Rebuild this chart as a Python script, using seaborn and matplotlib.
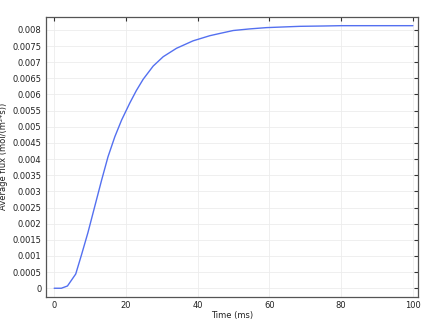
import matplotlib
matplotlib.use("Agg")
import matplotlib.pyplot as plt
import seaborn as sns
import pandas as pd

time_ms = [0, 2, 3.7, 6, 7.6, 9.4, 11.3, 13.2, 15.0, 16.9, 18.8, 21.1, 22.9, 24.8,
           27.6, 30.4, 34.1, 38.7, 43.4, 46.2, 49.9, 54.5, 59.2, 63.8, 68.5,
           75, 80, 90, 100]
flux = [0, 0.0, 0.00007, 0.00044, 0.00103, 0.00172, 0.00253, 0.00334, 0.00407,
        0.00469, 0.00521, 0.00574, 0.00612, 0.00647, 0.00688, 0.00717, 0.00743,
        0.00766, 0.00782, 0.00789, 0.00798, 0.00803, 0.00807, 0.00809, 0.00811,
        0.00812, 0.00813, 0.00813, 0.00813]
x_ticks = [0, 20, 40, 60, 80, 100]
y_ticks = [0, 0.0005, 0.001, 0.0015, 0.002, 0.0025, 0.003, 0.0035, 0.004,
           0.0045, 0.005, 0.0055, 0.006, 0.0065, 0.007, 0.0075, 0.008]
y_tick_labels = ["0", "0.0005", "0.001", "0.0015", "0.002", "0.0025", "0.003",
                 "0.0035", "0.004", "0.0045", "0.005", "0.0055", "0.006",
                 "0.0065", "0.007", "0.0075", "0.008"]

df = pd.DataFrame({"t": time_ms, "f": flux})

sns.set_style("white")
plt.rcParams["font.family"] = ["DejaVu Sans"]

fig = plt.figure(figsize=(4.26, 3.2), dpi=100)
ax = fig.add_axes([0.107, 0.073, 0.874, 0.874])
sns.lineplot(data=df, x="t", y="f", ax=ax, color="#5470f0", linewidth=1.0)

ax.set_xlim(-2.4, 101.4)
ax.set_ylim(-0.00026, 0.0084)
ax.set_xticks(x_ticks)
ax.set_xticklabels([str(v) for v in x_ticks])
ax.set_yticks(y_ticks)
ax.set_yticklabels(y_tick_labels)
ax.grid(True, color="#ececec", linewidth=0.6)
ax.tick_params(direction="in", length=3, width=0.8, labelsize=6, colors="#333333",
               top=True, right=True, labelcolor="#222222", pad=3)
for s in ax.spines.values():
    s.set_color("#555555")
    s.set_linewidth(0.9)
ax.set_xlabel("Time (ms)", fontsize=6, labelpad=1, color="#222222")
ax.set_ylabel("Average flux (mol/(m²*s))", fontsize=6, labelpad=3, color="#222222")

fig.savefig("out.png", dpi=100)
